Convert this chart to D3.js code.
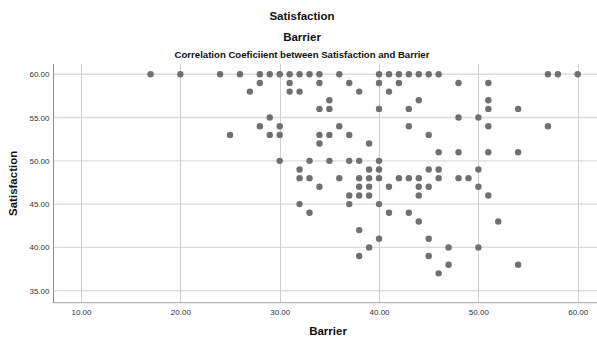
<!DOCTYPE html>
<html>
<head>
<meta charset="utf-8">
<script src="https://cdn.jsdelivr.net/npm/d3@7"></script>
<style>
  html, body { margin: 0; padding: 0; background: #ffffff; }
  svg { display: block; }
  text { font-family: "Liberation Sans", Arial, sans-serif; }
</style>
</head>
<body>
<svg id="chart" width="597" height="342"></svg>
<script>
// ---- data ----
const chartTitle = "Satisfaction";
const chartSubtitle1 = "Barrier";
const chartSubtitle2 = "Correlation Coeficiient between Satisfaction and Barrier";
const xLabel = "Barrier";
const yLabel = "Satisfaction";

const xTicks = [10, 20, 30, 40, 50, 60];
const yTicks = [35, 40, 45, 50, 55, 60];

// Barrier (x) values, one per respondent
const barrier = [
  17,20,24,26,28,29,30,31,32,33,34,36,40,41,42,43,44,45,46,57,58,60,
  28,31,34,37,40,42,48,51,
  27,31,32,38,41,
  35,44,51,
  34,35,40,43,51,54,
  29,48,50,
  28,30,36,43,51,57,
  25,29,30,34,35,37,45,
  34,39,
  46,48,51,54,
  30,33,35,37,38,40,
  32,39,40,45,46,50,
  32,33,36,38,39,40,42,43,44,46,48,49,
  34,38,39,41,44,45,50,
  37,38,39,44,51,
  32,37,40,
  33,41,43,
  44,52,
  38,
  40,45,
  39,47,50,
  38,45,
  47,54,
  46
];
// Satisfaction (y) values, same order as barrier
const satisfaction = [
  60,60,60,60,60,60,60,60,60,60,60,60,60,60,60,60,60,60,60,60,60,60,
  59,59,59,59,59,59,59,59,
  58,58,58,58,58,
  57,57,57,
  56,56,56,56,56,56,
  55,55,55,
  54,54,54,54,54,54,
  53,53,53,53,53,53,53,
  52,52,
  51,51,51,51,
  50,50,50,50,50,50,
  49,49,49,49,49,49,
  48,48,48,48,48,48,48,48,48,48,48,48,
  47,47,47,47,47,47,47,
  46,46,46,46,46,
  45,45,45,
  44,44,44,
  43,43,
  42,
  41,41,
  40,40,40,
  39,39,
  38,38,
  37
];

// ---- drawing ----
(function () {
const svg = d3.select("#chart");
const pLeft = 53.5, pRight = 597.6, pTop = 64, pBottom = 302.7;

const x = d3.scaleLinear().domain([7.23, 62.0]).range([pLeft, pRight]);
const y = d3.scaleLinear().domain([33.61, 61.19]).range([pBottom, pTop]);

// titles
svg.append("text").attr("x", 302).attr("y", 19.5).attr("text-anchor", "middle")
  .attr("font-size", "11.5px").attr("font-weight", "bold").attr("fill", "#111")
  .text(chartTitle);
svg.append("text").attr("x", 302).attr("y", 40.5).attr("text-anchor", "middle")
  .attr("font-size", "11.5px").attr("font-weight", "bold").attr("fill", "#111")
  .text(chartSubtitle1);
svg.append("text").attr("x", 302).attr("y", 58).attr("text-anchor", "middle")
  .attr("font-size", "9.6px").attr("font-weight", "bold").attr("fill", "#111")
  .text(chartSubtitle2);

// horizontal gridlines
svg.append("g").selectAll("line").data(yTicks).join("line")
  .attr("x1", pLeft).attr("x2", pRight)
  .attr("y1", d => y(d)).attr("y2", d => y(d))
  .attr("stroke", "#dcdcdc").attr("stroke-width", 1.4);

// vertical gridlines
svg.append("g").selectAll("line").data(xTicks).join("line")
  .attr("x1", d => Math.round(x(d)) + 0.5).attr("x2", d => Math.round(x(d)) + 0.5)
  .attr("y1", pTop).attr("y2", pBottom)
  .attr("stroke", "#cfcfcf").attr("stroke-width", 1);

// axes lines
svg.append("line").attr("x1", pLeft).attr("x2", pLeft).attr("y1", pTop).attr("y2", pBottom + 0.5)
  .attr("stroke", "#8c8c8c").attr("stroke-width", 1);
svg.append("line").attr("x1", pLeft).attr("x2", pRight).attr("y1", pBottom).attr("y2", pBottom)
  .attr("stroke", "#a0a0a0").attr("stroke-width", 1);

// tick labels via d3 axes
const yAxis = d3.axisLeft(y).tickValues(yTicks).tickFormat(d3.format(".2f")).tickSize(0).tickPadding(4);
const gy = svg.append("g").attr("transform", `translate(${pLeft},0)`).call(yAxis);
gy.select(".domain").remove();
gy.selectAll("text").attr("font-size", "8px").attr("fill", "#333")
  .attr("font-family", "Liberation Sans, Arial, sans-serif");

const xAxis = d3.axisBottom(x).tickValues(xTicks).tickFormat(d3.format(".2f")).tickSize(0).tickPadding(7);
const gx = svg.append("g").attr("transform", `translate(0,${pBottom})`).call(xAxis);
gx.select(".domain").remove();
gx.selectAll("text").attr("font-size", "8px").attr("fill", "#333")
  .attr("font-family", "Liberation Sans, Arial, sans-serif");

// axis titles
svg.append("text").attr("x", 328).attr("y", 335).attr("text-anchor", "middle")
  .attr("font-size", "11.5px").attr("font-weight", "bold").attr("fill", "#111")
  .text(xLabel);
svg.append("text").attr("transform", `translate(17,${(pTop + pBottom) / 2}) rotate(-90)`)
  .attr("text-anchor", "middle")
  .attr("font-size", "11.5px").attr("font-weight", "bold").attr("fill", "#111")
  .text(yLabel);

// points
const pts = barrier.map((b, i) => ({ b, s: satisfaction[i] }));
svg.append("g").selectAll("circle").data(pts).join("circle")
  .attr("cx", d => x(d.b)).attr("cy", d => y(d.s))
  .attr("r", 3.2).attr("fill", "#707070");
})();
</script>
</body>
</html>
